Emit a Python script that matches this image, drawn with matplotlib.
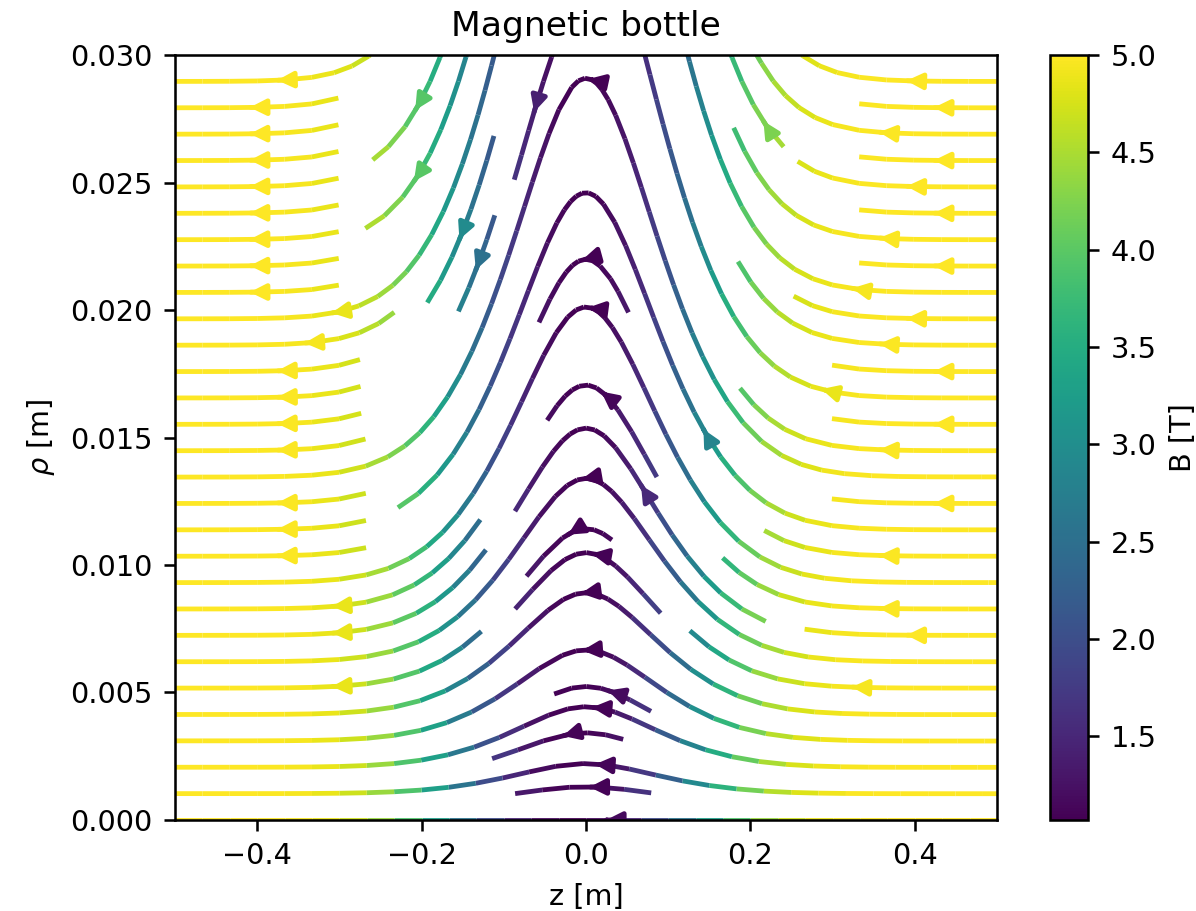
import numpy as np
import matplotlib
matplotlib.use('Agg')
from matplotlib import pyplot as plt
from matplotlib import colors

plt.rcParams['font.size'] = 9

# field profile
B_min = 1.07      # T, centre of the bottle (bottom of colour bar)
B_max = 5.0       # T, mirror field (top of colour bar)
L_mirror = 0.21   # m, width of the field well
z_lim = [-0.5, 0.5]
rho_lim = [0.0, 0.03]
cbar_ticks = [1.5, 2.0, 2.5, 3.0, 3.5, 4.0, 4.5, 5.0]

z = np.linspace(z_lim[0], z_lim[1], 200)
rho = np.linspace(rho_lim[0], rho_lim[1], 200)
Z, R = np.meshgrid(z, rho)

# on-axis field, paraxial expansion for the radial part
f = np.tanh((Z / L_mirror)**2)
Bz = B_min + (B_max - B_min) * f
dBz = (B_max - B_min) * (1 - f**2) * 2 * Z / L_mirror**2
Br = -R / 2 * dBz
B = np.sqrt(Bz**2 + Br**2)

dpi = 230
fig = plt.figure(figsize=(1196 / dpi, 911 / dpi), dpi=dpi)
ax = fig.add_axes([0.1463, 0.0999, 0.6873, 0.8397])
cax = fig.add_axes([0.878, 0.0999, 0.0318, 0.8397])

norm = colors.Normalize(vmin=B_min, vmax=B_max)
strm = ax.streamplot(Z, R, -Bz, -Br, color=B, cmap='viridis', norm=norm)
ax.set_xlim(z_lim)
ax.set_ylim(rho_lim)
ax.set_xlabel('z [m]')
ax.set_ylabel(r'$\rho$ [m]')
ax.set_title('Magnetic bottle')

cb = fig.colorbar(strm.lines, cax=cax, ticks=cbar_ticks)
cb.set_label('B [T]')

fig.savefig('out.png', dpi=dpi)
